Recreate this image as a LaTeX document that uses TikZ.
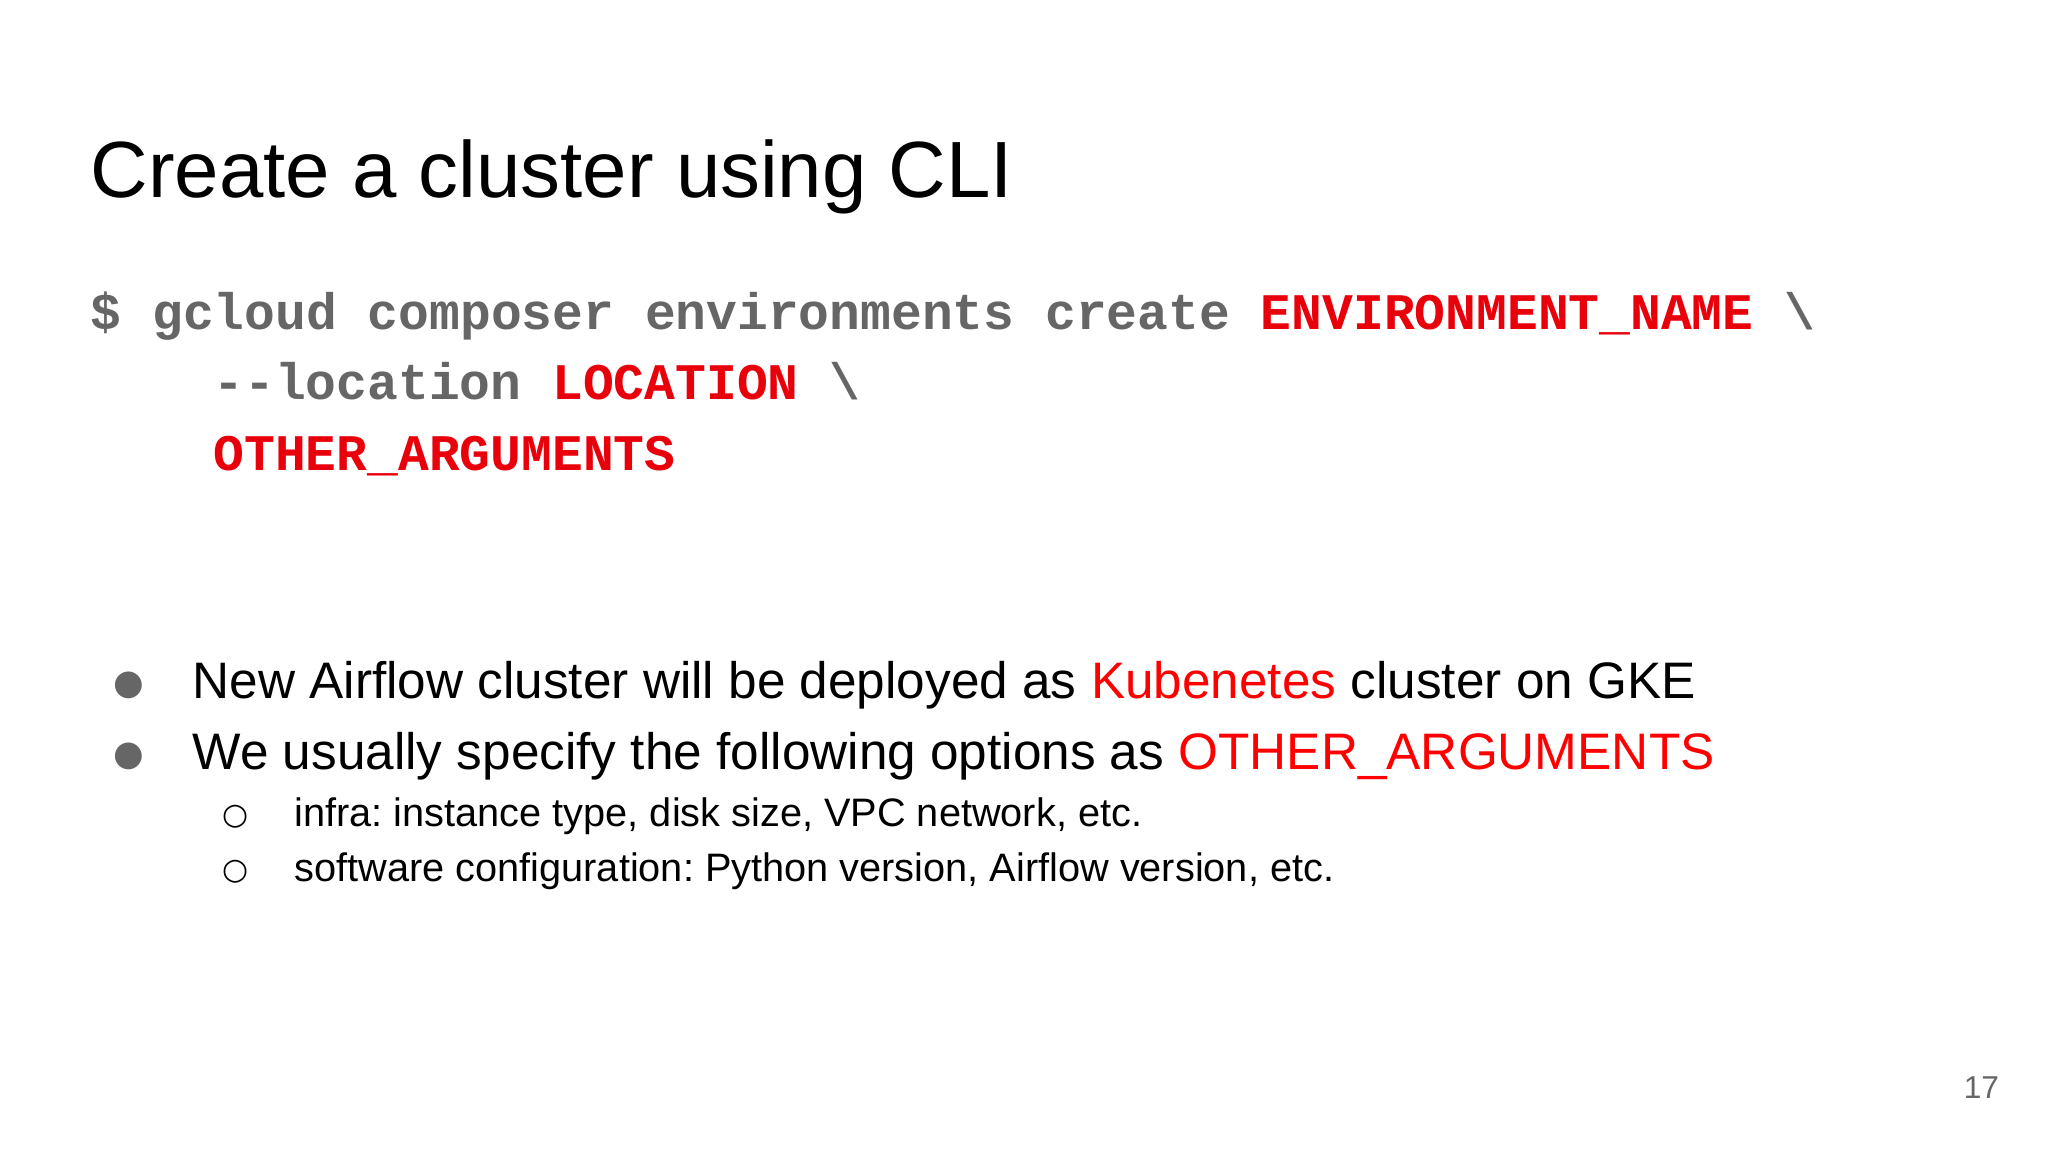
\documentclass[tikz,border=0pt]{standalone}
\usepackage{fontspec}
\setmainfont{Liberation Sans}
\newfontfamily\codefont{Liberation Mono}
\newfontfamily\symfont{DejaVu Sans}
\frenchspacing
\definecolor{codegray}{HTML}{666666}
\definecolor{hired}{HTML}{E8000B}
\begin{document}
\begin{tikzpicture}[x=0.013061cm,y=-0.013061cm,
  txt/.style={anchor=base west,inner sep=0pt,text=black},
  code/.style={anchor=base west,inner sep=0pt,font=\codefont\bfseries\fontsize{14.6}{16}\selectfont,text=codegray},
  big/.style={font=\fontsize{14.6}{17}\selectfont},
  small/.style={font=\fontsize{11.3}{13}\selectfont},
  dot/.style={anchor=base west,inner sep=0pt,font=\symfont\fontsize{10}{12}\selectfont,text=codegray},
  ring/.style={anchor=base west,inner sep=0pt,font=\symfont\fontsize{8.5}{10}\selectfont,text=black}]
\useasboundingbox (0,0) rectangle (1568,882);
\node[txt,font=\fontsize{22.7}{27}\selectfont] (title) at (69,151) {Create a cluster using CLI};
\node[code] (c1) at (69,252) {\$ gcloud composer environments create \textcolor{hired}{ENVIRONMENT\_NAME} \textbackslash};
\node[code] (c2) at (163,306) {--location \textcolor{hired}{LOCATION} \textbackslash};
\node[code] (c3) at (163,360) {\textcolor{hired}{OTHER\_ARGUMENTS}};
\node[dot] (b1) at (86,532) {●};
\node[txt,big] (t1) at (147,535) {New Airflow cluster will be deployed as \textcolor{red}{Kubenetes} cluster on GKE};
\node[dot] (b2) at (86,586) {●};
\node[txt,big] (t2) at (147,589) {We usually specify the following options as \textcolor{red}{OTHER\_ARGUMENTS}};
\node[ring] (b3) at (170,631) {○};
\node[txt,small] (t3) at (225,633) {infra: instance type, disk size, VPC network, etc.};
\node[ring] (b4) at (170,673) {○};
\node[txt,small] (t4) at (225,675) {software configuration: Python version, Airflow version, etc.};
\node[anchor=base east,inner sep=0pt,font=\fontsize{9}{11}\selectfont,text=codegray] (pg) at (1531,841) {17};
\end{tikzpicture}
\end{document}
